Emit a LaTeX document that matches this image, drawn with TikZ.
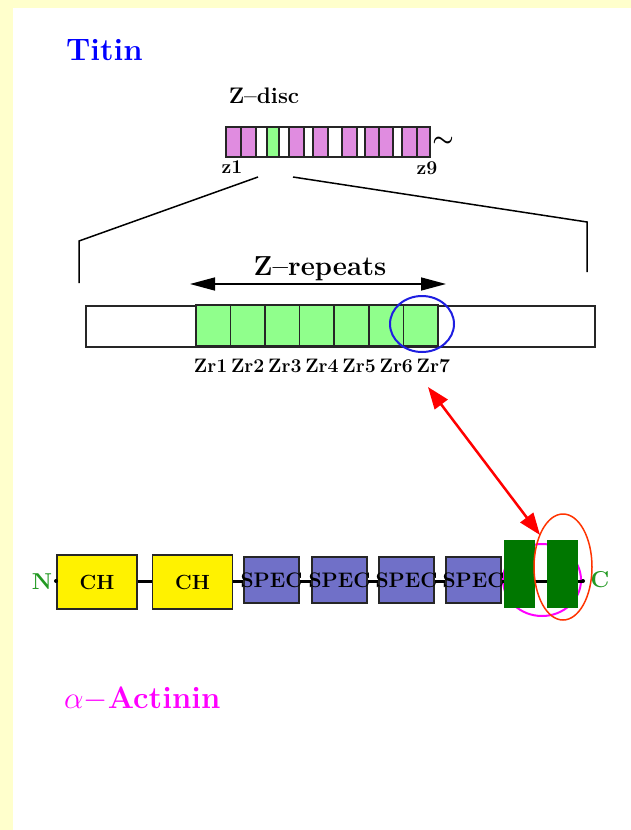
\RequirePackage{fix-cm}
\documentclass[tikz,border=0pt]{standalone}
\usepackage{fontspec}
\usetikzlibrary{arrows.meta}
\definecolor{bgyellow}{HTML}{FFFFCC}
\definecolor{zpink}{HTML}{E08CE0}
\definecolor{zgreen}{HTML}{90FF8C}
\definecolor{specblue}{HTML}{7070C8}
\definecolor{dgreen}{HTML}{007700}
\definecolor{ngreen}{HTML}{229922}
\definecolor{ored}{HTML}{FF3300}
\definecolor{mag}{HTML}{FF00FF}
\definecolor{cblue}{HTML}{1E1EE1}
\begin{document}
\begin{tikzpicture}[x=1pt,y=-1pt,
  seg/.style={draw=black!85,line width=1.5pt},
  zrbox/.style={draw=black!85,line width=1.6pt,fill=zgreen,minimum width=34.6pt,minimum height=41pt,inner sep=0pt},
  chbox/.style={draw=black!85,line width=1.4pt,fill=yellow,minimum width=80pt,minimum height=54pt,inner sep=0pt,font=\fontsize{20.5}{21}\selectfont\bfseries},
  specbox/.style={draw=black!85,line width=1.4pt,fill=specblue,minimum width=55pt,minimum height=46pt,inner sep=0pt,font=\fontsize{21}{22}\selectfont\bfseries},
  gbox/.style={fill=dgreen,minimum width=31pt,minimum height=68pt,inner sep=0pt},
  lab/.style={font=\fontsize{19.5}{20}\selectfont\bfseries,inner sep=0pt},
  bb/.style={line width=3pt,black}]
\useasboundingbox (0,0) rectangle (631,830);
\fill[bgyellow] (0,0) rectangle (631,830);
\fill[white] (12.5,8) rectangle (631,830);

% Titles
\node[anchor=base west,inner sep=0pt,text=blue,font=\fontsize{31}{32}\selectfont\bfseries] (titin) at (66,60) {Titin};
\node[anchor=base,inner sep=0pt,font=\fontsize{22.5}{23}\selectfont\bfseries] (zdisc) at (264,103) {Z\textendash disc};

% Z-disc bar segments
\foreach \a/\b/\c in {226/241/zpink,241/256/zpink,256/267/white,267/279/zgreen,279/289/white,289/304/zpink,304/313/white,313/328/zpink,328/342/white,342/357/zpink,357/365/white,365/379/zpink,379/393/zpink,393/402/white,402/417/zpink,417/430/zpink}
  \filldraw[seg,fill=\c] (\a,127) rectangle (\b,157);
\node[inner sep=0pt,font=\fontsize{24}{24}\selectfont\boldmath] (tilde) at (443,142) {$\sim$};
\node[lab,anchor=base] (z1) at (232,173) {z1};
\node[lab,anchor=base] (z9) at (427,174) {z9};

% zoom lines
\coordinate (l1) at (258,177);
\coordinate (l2) at (79,241);
\coordinate (l3) at (79,283);
\coordinate (r1) at (293,177);
\coordinate (r2) at (587,222);
\coordinate (r3) at (587,272);
\draw[line width=1.5pt] (l1) -- (l2) -- (l3);
\draw[line width=1.5pt] (r1) -- (r2) -- (r3);

% Z-repeats
\node[anchor=base,inner sep=0pt,font=\fontsize{27.5}{28}\selectfont\bfseries] (zrep) at (320,275) {Z\textendash repeats};
\coordinate (zal) at (190,284);
\coordinate (zar) at (446,284);
\draw[line width=1.5pt,{Triangle[length=25pt,width=13pt]}-{Triangle[length=25pt,width=13pt]}] (zal) -- (zar);

% Big titin bar
\node[draw=black!85,line width=1.6pt,fill=white,minimum width=509pt,minimum height=41pt,inner sep=0pt,anchor=north west] (zbar) at (85,305) {};
\foreach \i in {1,...,7}{
  \node[zrbox] (zr\i) at ({196+34.57*(\i-0.5)},325.5) {};
  \node[lab,anchor=base] (zrl\i) at ({192+37.14*(\i-0.5)},372) {Zr\i};
}
\draw[line width=2pt,cblue] (422,324) ellipse [x radius=32pt,y radius=28pt];

% alpha-actinin
\node[anchor=base west,inner sep=0pt,text=mag,font=\fontsize{31}{32}\selectfont\bfseries] (actinin) at (64,708) {$\alpha{-}$Actinin};

\draw[mag,line width=2pt] (542,580) ellipse [x radius=39pt,y radius=36pt];

\coordinate (ndot) at (56,581);
\coordinate (cdot) at (583,581);
\node[chbox] (ch1) at (97,582) {\makebox[0pt]{CH}};
\node[chbox] (ch2) at (192.5,582) {\makebox[0pt]{CH}};
\node[specbox] (sp1) at (271.5,580) {\makebox[0pt]{SPEC}};
\node[specbox] (sp2) at (339.5,580) {\makebox[0pt]{SPEC}};
\node[specbox] (sp3) at (406.5,580) {\makebox[0pt]{SPEC}};
\node[specbox] (sp4) at (473.5,580) {\makebox[0pt]{SPEC}};
\node[gbox] (g1) at (519.5,574) {};
\node[gbox] (g2) at (562.5,574) {};
\draw[bb] (ndot) -- (ch1.west |- ndot);
\draw[bb] (ch1.east |- ndot) -- (ch2.west |- ndot);
\draw[bb] (ch2.east |- ndot) -- (sp1.west |- ndot);
\draw[bb] (sp1.east |- ndot) -- (sp2.west |- ndot);
\draw[bb] (sp2.east |- ndot) -- (sp3.west |- ndot);
\draw[bb] (sp3.east |- ndot) -- (sp4.west |- ndot);
\draw[bb] (sp4.east |- ndot) -- (g1.west |- ndot);
\draw[bb] (g1.east |- ndot) -- (g2.west |- ndot);
\draw[bb] (g2.east |- ndot) -- (cdot);
\fill (ndot) circle (2pt);
\fill (cdot) circle (2pt);
\node[text=ngreen,inner sep=0pt,font=\fontsize{23}{23}\selectfont\bfseries] (nlab) at (42,582) {N};
\node[text=ngreen,inner sep=0pt,font=\fontsize{23}{23}\selectfont\bfseries] (clab) at (600,580) {C};

\draw[ored,line width=1.5pt] (563,567) ellipse [x radius=29pt,y radius=53pt];

% red double arrow
\coordinate (ra) at (428,387);
\coordinate (rb) at (540,535);
\draw[red,line width=2.5pt,{Triangle[length=22pt,width=16pt]}-{Triangle[length=22pt,width=16pt]}] (ra) -- (rb);
\end{tikzpicture}
\end{document}
